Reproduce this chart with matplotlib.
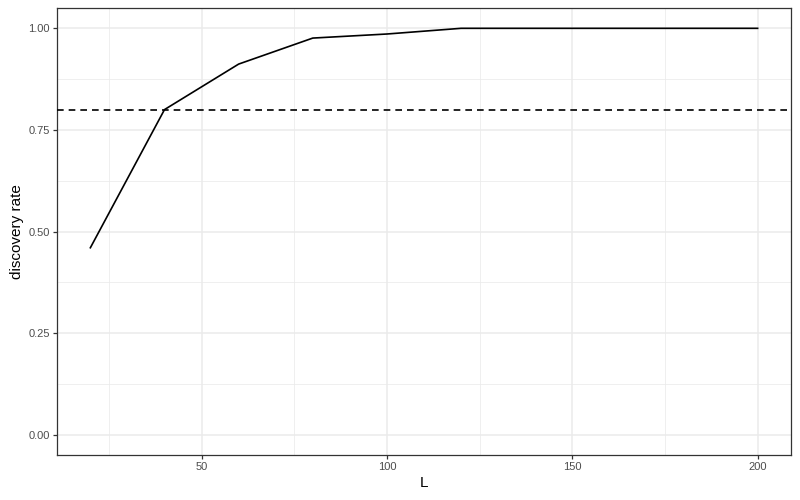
import numpy as np
import matplotlib
matplotlib.use('Agg')
import matplotlib.pyplot as plt
from matplotlib.ticker import MultipleLocator

L = [20, 40, 60, 80, 100, 120, 140, 160, 180, 200]
rate = [0.46, 0.80, 0.912, 0.976, 0.986, 1.0, 1.0, 1.0, 1.0, 1.0]
threshold = 0.8

plt.rcParams['font.family'] = ['Liberation Sans', 'DejaVu Sans']

fig = plt.figure(figsize=(8, 5), dpi=100)
ax = fig.add_axes([0.07125, 0.09, 0.9175, 0.894])

ax.plot(L, rate, color='black', lw=1.2, zorder=3)
ax.axhline(threshold, color='black', lw=1.2, ls=(0, (4, 3)), zorder=3)

ax.set_xlim(11, 209)
ax.set_ylim(-0.05, 1.05)
ax.xaxis.set_major_locator(MultipleLocator(50))
ax.xaxis.set_minor_locator(MultipleLocator(25))
ax.yaxis.set_minor_locator(MultipleLocator(0.125))
ax.set_yticks([0, 0.25, 0.5, 0.75, 1.0])
ax.set_yticklabels(['0.00', '0.25', '0.50', '0.75', '1.00'])

ax.grid(which='major', color='#ebebeb', lw=1.1)
ax.grid(which='minor', color='#ebebeb', lw=0.55)
ax.set_axisbelow(True)
for s in ax.spines.values():
    s.set_color('#333333')
    s.set_linewidth(0.9)
ax.tick_params(which='major', length=3, width=0.9, color='#333333',
               labelcolor='#4d4d4d', labelsize=8, pad=2)
ax.tick_params(which='minor', length=0)

ax.set_xlabel('L', fontsize=11, labelpad=3)
ax.set_ylabel('discovery rate', fontsize=11, labelpad=3)

fig.savefig('out.png')
